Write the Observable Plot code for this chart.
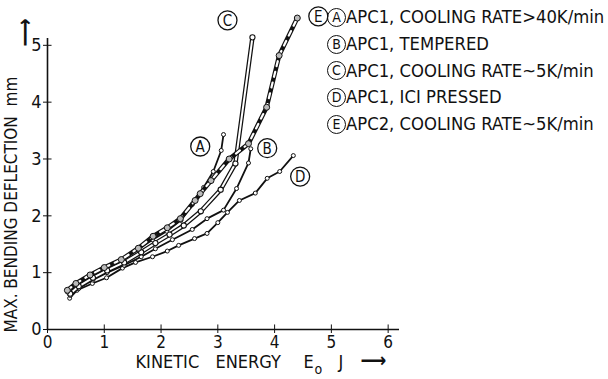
<!DOCTYPE html>
<html><head><meta charset="utf-8">
<script src="https://cdn.jsdelivr.net/npm/d3@7"></script>
<script src="https://cdn.jsdelivr.net/npm/@observablehq/plot@0.6"></script>
<style>
body{margin:0;background:#fff;}
#wrap{position:relative;width:608px;height:379px;overflow:hidden;font-family:"DejaVu Sans Condensed","DejaVu Sans",sans-serif;font-stretch:condensed;color:#111;}
#legend{position:absolute;left:327px;top:4px;font-size:18.3px;line-height:26.8px;white-space:nowrap;}
#legend .row{display:flex;align-items:center;height:26.8px;}
#legend .c{display:inline-block;width:19px;height:19px;border:1.3px solid #111;border-radius:50%;text-align:center;line-height:17px;font-size:14px;box-sizing:border-box;margin-right:0px;}
</style></head>
<body><div id="wrap"><div id="legend"></div></div>
<script>
const xTicks = [0,1,2,3,4,5,6];
const yTicks = [0,1,2,3,4,5];
const legendKeys = ["A","B","C","D","E"];
const legendTexts = ["APC1, COOLING RATE>40K/min","APC1, TEMPERED","APC1, COOLING RATE~5K/min","APC1, ICI PRESSED","APC2, COOLING RATE~5K/min"];

const seriesA = [[0.35,0.66],[0.5,0.79],[0.75,0.94],[1.0,1.08],[1.3,1.21],[1.6,1.41],[1.85,1.58],[2.1,1.73],[2.35,1.92],[2.55,2.2],[2.75,2.5],[2.92,2.78],[3.06,3.15],[3.1,3.43]];
const seriesB = [[0.4,0.6],[0.55,0.72],[0.8,0.87],[1.05,1.0],[1.35,1.13],[1.65,1.28],[1.9,1.42],[2.2,1.58],[2.55,1.76],[2.81,1.95],[3.1,2.1],[3.33,2.48],[3.54,2.93],[3.58,3.18]];
const seriesC = [[0.4,0.63],[0.55,0.76],[0.8,0.91],[1.05,1.04],[1.35,1.18],[1.65,1.36],[1.9,1.52],[2.15,1.67],[2.4,1.83],[2.7,2.08],[3.05,2.46],[3.31,2.92],[3.61,5.14]];
const seriesD = [[0.39,0.55],[0.52,0.69],[0.79,0.81],[1.04,0.91],[1.32,1.08],[1.55,1.18],[1.85,1.28],[2.11,1.38],[2.31,1.48],[2.59,1.6],[2.81,1.69],[3.0,1.88],[3.17,2.06],[3.38,2.27],[3.66,2.4],[3.87,2.66],[4.09,2.78],[4.33,3.06]];
const seriesE = [[0.35,0.69],[0.5,0.81],[0.75,0.96],[1.0,1.09],[1.3,1.23],[1.6,1.43],[1.86,1.64],[2.11,1.79],[2.34,1.95],[2.6,2.27],[2.69,2.39],[2.88,2.62],[3.2,3.0],[3.54,3.27],[3.86,3.91],[4.08,4.82],[4.4,5.48]];
const labelKeys = ["A","B","C","D","E"];
const labelX = [2.69,3.87,3.17,4.45,4.77];
const labelY = [3.22,3.19,5.44,2.69,5.51];

const toRows = s => s.map(([x,y]) => ({x,y}));
const A = toRows(seriesA), B = toRows(seriesB), C = toRows(seriesC), D = toRows(seriesD), E = toRows(seriesE);
const labels = labelKeys.map((k,i) => ({k, x: labelX[i], y: labelY[i]}));
const font = '"DejaVu Sans Condensed","DejaVu Sans",sans-serif';

const thin = (data) => [
  Plot.line(data, {x:"x", y:"y", stroke:"#111", strokeWidth:1.8}),
  Plot.dot(data, {x:"x", y:"y", r:2, fill:"#fff", stroke:"#111", strokeWidth:1})
];
const tt = {fill:"#111", textAnchor:"start", fontSize:18};

const chart = Plot.plot({
  width: 608, height: 379,
  marginLeft: 47, marginRight: 209, marginTop: 38, marginBottom: 50,
  x: {domain: [0, 6.2]},
  y: {domain: [0, 5.12]},
  style: {fontFamily: font, background: "transparent", color: "#111"},
  marks: [
    Plot.ruleY([0], {stroke:"#111", strokeWidth:1.6}),
    Plot.ruleX([0], {stroke:"#111", strokeWidth:1.6}),
    Plot.ruleX(xTicks, {y1:0, y2:0.08, stroke:"#111", strokeWidth:1}),
    Plot.ruleY(yTicks, {x1:0, x2:0.08, stroke:"#111", strokeWidth:1}),
    Plot.axisX({ticks: xTicks, tickSize: 4, tickPadding: 2, fontSize: 17, label: null, tickFormat: d => String(d)}),
    Plot.axisY({ticks: yTicks, tickSize: 4, tickPadding: 2, fontSize: 18, label: null, tickFormat: d => String(d)}),
    Plot.text(["KINETIC"], {...tt, frameAnchor:"bottom-left", dx: 88, dy: 38}),
    Plot.text(["ENERGY"], {...tt, frameAnchor:"bottom-left", dx: 168, dy: 38}),
    Plot.text(["E"], {...tt, frameAnchor:"bottom-left", dx: 256, dy: 38}),
    Plot.text(["o"], {...tt, frameAnchor:"bottom-left", dx: 267, dy: 44, fontSize: 14}),
    Plot.text(["J"], {...tt, frameAnchor:"bottom-left", dx: 291, dy: 38}),
    Plot.text(["⟶"], {...tt, frameAnchor:"bottom-left", dx: 313, dy: 37, fontSize: 20, fontWeight:"bold"}),
    Plot.text(["MAX. BENDING DEFLECTION"], {...tt, frameAnchor:"bottom-left", dx: -31, dy: 3, rotate: -90, fontSize: 17}),
    Plot.text(["mm"], {...tt, frameAnchor:"bottom-left", dx: -31, dy: -223, rotate: -90, fontSize: 17}),
    Plot.text(["⟶"], {...tt, frameAnchor:"top-left", dx: -31, dy: 8, rotate: -90, fontSize: 22, fontWeight:"bold"}),
    ...thin(D),
    ...thin(B),
    Plot.line(C, {x:"x", y:"y", stroke:"#111", strokeWidth:4.5}),
    Plot.line(C, {x:"x", y:"y", stroke:"#fff", strokeWidth:2}),
    Plot.dot(C, {x:"x", y:"y", r:2.6, fill:"#fff", stroke:"#111", strokeWidth:1.1}),
    ...thin(A),
    Plot.line(E, {x:"x", y:"y", stroke:"#111", strokeWidth:4.5}),
    Plot.line(E, {x:"x", y:"y", stroke:"#fff", strokeWidth:2.2, strokeDasharray:"5,6"}),
    Plot.dot(E, {x:"x", y:"y", r:3, fill:"#bbb", stroke:"#111", strokeWidth:1}),
    Plot.dot(labels, {x:"x", y:"y", r:9.5, fill:"#fff", stroke:"#111", strokeWidth:1.3}),
    Plot.text(labels, {x:"x", y:"y", text:"k", fontSize:15, fill:"#111", dy: 0.5})
  ]
});
const wrap = document.getElementById("wrap");
wrap.insertBefore(chart, wrap.firstChild);
const legend = document.getElementById("legend");
legendKeys.forEach((k,i) => {
  const row = document.createElement("div");
  row.className = "row";
  row.innerHTML = `<span class="c">${k}</span><span>${legendTexts[i]}</span>`;
  legend.appendChild(row);
});
</script></body></html>
